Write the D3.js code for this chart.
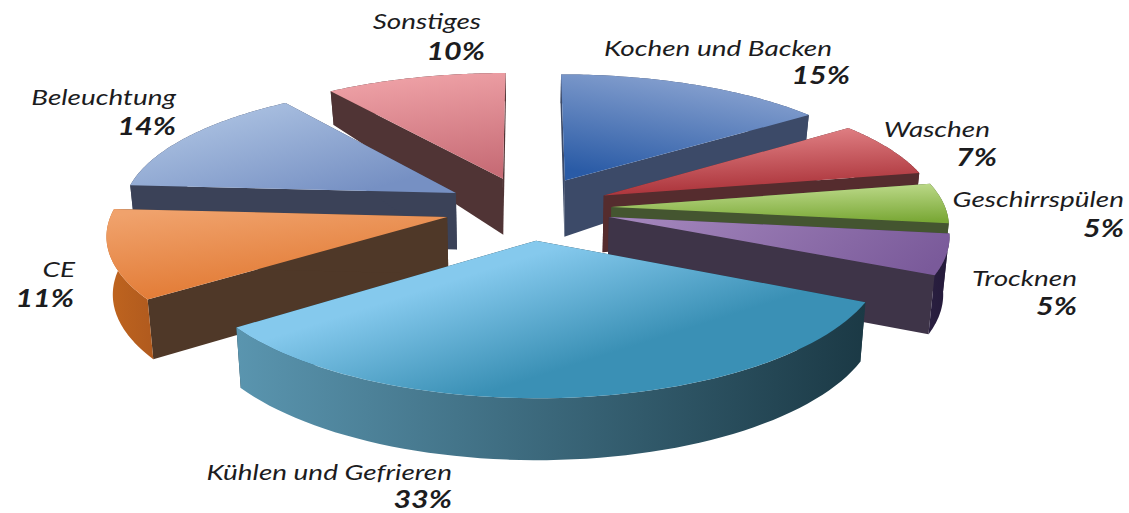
<!DOCTYPE html>
<html>
<head>
<meta charset="utf-8">
<script src="https://cdn.jsdelivr.net/npm/d3@7/dist/d3.min.js"></script>
<style>
  html, body { margin: 0; padding: 0; background: #fff; }
  text { font-family: Lato, "Open Sans", sans-serif; font-style: italic; fill: #1c1c1e; }
  .pct { font-weight: 700; font-size: 24px; }
  .name { font-size: 22px; }
</style>
</head>
<body>
<div id="chart"></div>
<script>
var width = 1129, height = 513;

// clockwise from 12 o'clock
var categories = ["Kochen und Backen", "Waschen", "Geschirrspülen", "Trocknen", "Kühlen und Gefrieren", "CE", "Beleuchtung", "Sonstiges"];
var shares = [15, 7, 5, 5, 33, 11, 14, 10];

// top face gradient: start colour, end colour
var topStart = ["#8fa7d3", "#e38488", "#c0dc8e", "#a386bc", "#85c9ed", "#f0a26c", "#acc2e2", "#efa2a7"];
var topEnd = ["#2a5ba6", "#a62c33", "#7aa836", "#7a5a9a", "#3a90b5", "#e0752d", "#7690c3", "#c76c76"];
var sideColors = ["#3c4a68", "#552c2e", "#445530", "#3e3448", "#1c3a47", "#4f3828", "#3b4258", "#503435"];
var wallStart = ["#3c4a68", "#552c2e", "#445530", "#2a1f40", "#5a95af", "#c0651f", "#3b4258", "#503435"];
var wallEnd = ["#3c4a68", "#552c2e", "#445530", "#241a3a", "#1b3945", "#b05a1e", "#3b4258", "#503435"];
// gradient direction in the bounding box of the top face: x1, y1, x2, y2
var topDir = [[.7, 0, .3, 1], [.4, 0, .6, 1], [.4, 0, .55, 1], [0, .4, 1, .6], [.1, .56, .48, .86], [.2, 0, .6, 1], [.15, .15, .85, .85], [.4, 0, .6, 1]];

// label lines are right aligned: [end x, baseline y]
var nameAt = [[832, 56], [990, 137], [1124, 207], [1077, 286], [452, 479.5], [75, 277], [176, 105], [481, 29]];
var pctAt = [[850, 84], [997, 166], [1124, 237], [1077, 315], [452, 508], [74, 307], [176, 135], [485, 60]];

var nameStretch = 1.27, pctStretch = 1.27;

var explode = 0.25, perspX = 0.12, perspY = 0.133, nearShrink = 0.985;

var xScale = d3.scaleLinear().domain([-1, 1]).range([528 - 334, 528 + 334]);
var yScale = d3.scaleLinear().domain([-1, 1]).range([208 - 127, 208 + 127]);
// thickness grows toward the viewer, not linear in the original artwork
var depthScale = d3.scaleLinear().domain([-1.25, -0.25, 1.25]).range([28, 56, 62]);

var svg = d3.select("#chart")
  .append("svg")
  .attr("width", width)
  .attr("height", height);

var defs = svg.append("defs");

function addGradient(id, dir, c0, c1) {
  var g = defs.append("linearGradient")
    .attr("id", id)
    .attr("x1", dir[0]).attr("y1", dir[1])
    .attr("x2", dir[2]).attr("y2", dir[3]);
  g.append("stop").attr("offset", 0).attr("stop-color", c0);
  g.append("stop").attr("offset", 1).attr("stop-color", c1);
}

var pie = d3.pie().sort(null).startAngle(0).endAngle(2 * Math.PI);

var slices = pie(shares).map(function(d, i) {
  var mid = (d.startAngle + d.endAngle) / 2;
  return {
    i: i,
    a0: d.startAngle,
    a1: d.endAngle,
    mid: mid,
    ox: explode * Math.sin(mid),
    oy: -explode * Math.cos(mid)
  };
});

// ground point of a slice -> screen, lower = true gives the bottom face
function project(s, r, a, lower) {
  var X = s.ox + r * Math.sin(a);
  var Y = s.oy - r * Math.cos(a);
  var px = xScale(X / (1 - perspX * Y)), py = yScale(Y / (1 - perspY * Y));
  if (lower) {
    px = xScale(0) + (px - xScale(0)) * nearShrink;
    py = py + depthScale(Y);
  }
  return [px, py];
}

function arcPoints(s, lower) {
  return d3.range(0, 61).map(function(t) {
    return project(s, 1, s.a0 + (s.a1 - s.a0) * t / 60, lower);
  });
}

var line = d3.line();
function polygon(pts) { return line(pts) + "Z"; }

function sidePath(s, a) {
  return polygon([project(s, 0, a), project(s, 1, a), project(s, 1, a, true), project(s, 0, a, true)]);
}

function drawWall(g, s) {
  g.append("path")
    .attr("d", polygon(arcPoints(s, false).concat(arcPoints(s, true).reverse())))
    .attr("fill", "url(#wall-" + s.i + ")");
}

function drawSides(g, s) {
  [s.a0, s.a1].forEach(function(a) {
    g.append("path")
      .attr("d", sidePath(s, a))
      .attr("fill", sideColors[s.i]);
  });
}

slices.forEach(function(s) {
  addGradient("top-" + s.i, topDir[s.i], topStart[s.i], topEnd[s.i]);
  addGradient("wall-" + s.i, [0, 0, 1, 0], wallStart[s.i], wallEnd[s.i]);
});

// back slices first
var order = slices.slice().sort(function(a, b) { return d3.ascending(a.oy, b.oy); });

order.forEach(function(s) {
  var g = svg.append("g").attr("class", "slice");
  if (s.oy < 0) {
    drawWall(g, s);
    drawSides(g, s);
  } else {
    drawSides(g, s);
    drawWall(g, s);
  }
  g.append("path")
    .attr("d", polygon([project(s, 0, s.a0)].concat(arcPoints(s, false))))
    .attr("fill", "url(#top-" + s.i + ")");
});

var labels = svg.append("g").attr("class", "labels");

// the artwork's type is a bit wider than the fonts we have
labels.selectAll(".name")
  .data(categories)
  .enter()
  .append("text")
  .attr("class", "name")
  .attr("text-anchor", "end")
  .attr("transform", function(d, i) { return `translate(${nameAt[i][0]},${nameAt[i][1]}) scale(${nameStretch},1)`; })
  .text(function(d) { return d; });

labels.selectAll(".pct")
  .data(shares)
  .enter()
  .append("text")
  .attr("class", "pct")
  .attr("text-anchor", "end")
  .attr("transform", function(d, i) { return `translate(${pctAt[i][0]},${pctAt[i][1]}) scale(${pctStretch},1)`; })
  .text(function(d) { return d + "%"; });
</script>
</body>
</html>
